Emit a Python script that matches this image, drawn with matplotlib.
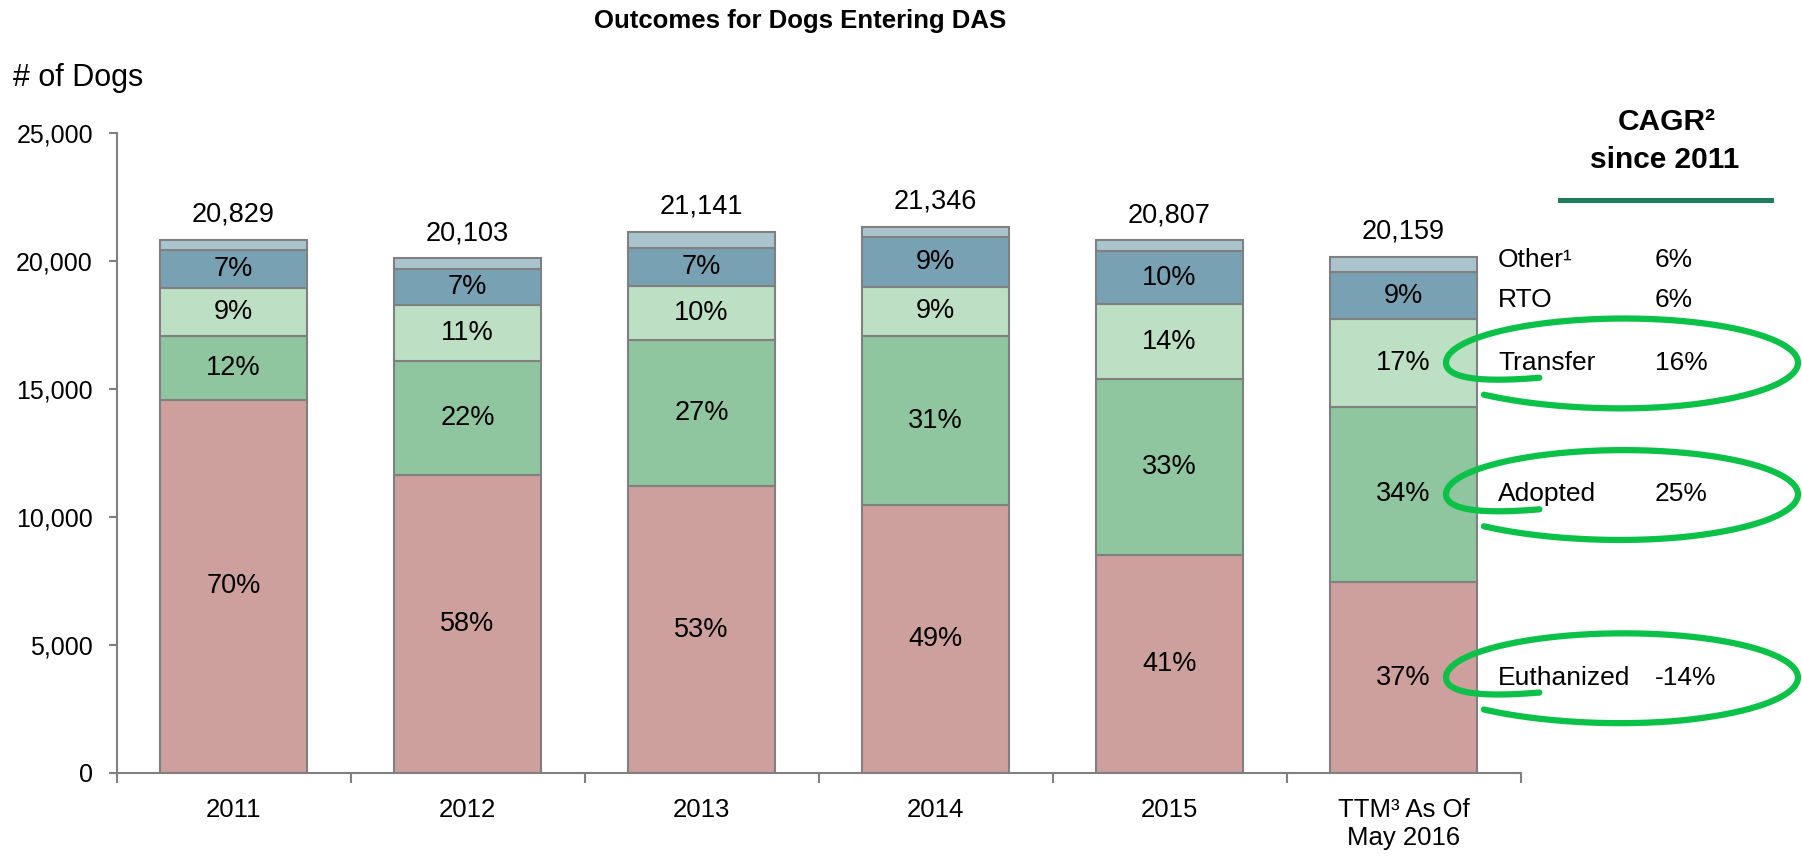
import matplotlib
matplotlib.use('Agg')
import matplotlib.pyplot as plt
from matplotlib.lines import Line2D
import numpy as np

plt.rcParams['font.family'] = ['Liberation Sans', 'DejaVu Sans']

# data
categories = ['2011', '2012', '2013', '2014', '2015', 'TTM³ As Of\nMay 2016']
totals = [20829, 20103, 21141, 21346, 20807, 20159]
euthanized = [14580, 11660, 11205, 10460, 8531, 7459]
adopted = [2500, 4423, 5708, 6617, 6866, 6854]
transfer = [1875, 2211, 2114, 1921, 2913, 3427]
rto = [1458, 1407, 1480, 1921, 2081, 1814]
other = [416, 402, 634, 427, 416, 605]

cagr_labels = ['Euthanized', 'Adopted', 'Transfer', 'RTO', 'Other¹']
cagr_values = ['-14%', '25%', '16%', '6%', '6%']
circled = ['Euthanized', 'Adopted', 'Transfer']

series = [
    ('Euthanized', euthanized, '#CEA09D'),
    ('Adopted', adopted, '#8FC6A0'),
    ('Transfer', transfer, '#BDDFC4'),
    ('RTO', rto, '#78A2B3'),
    ('Other¹', other, '#AAC4CE'),
]

W, H = 1802, 858
fig = plt.figure(figsize=(W / 100, H / 100), dpi=100)
ax = fig.add_axes([116.5 / W, 1 - 773 / H, 1404 / W, 640 / H])

x = np.arange(len(categories))
bottom = np.zeros(len(categories))
centers = {}
for name, vals, color in series:
    vals = np.array(vals)
    ax.bar(x, vals, width=0.63, bottom=bottom, color=color,
           edgecolor='#808080', linewidth=1.5, zorder=2)
    centers[name] = bottom + vals / 2
    if name != 'Other¹':
        for xi, b, v, t in zip(x, bottom, vals, totals):
            ax.text(xi, b + v / 2, f'{round(100 * v / t)}%', ha='center',
                    va='center', fontsize=19.5, zorder=3)
    bottom += vals

for xi, t in zip(x, totals):
    ax.annotate(f'{t:,}', (xi, t), xytext=(0, 18), textcoords='offset points',
                ha='center', va='center', fontsize=19.5)

ax.set_xlim(-0.5, 5.5)
ax.set_ylim(0, 25000)
for side in ['top', 'right']:
    ax.spines[side].set_visible(False)
for side in ['left', 'bottom']:
    ax.spines[side].set_color('#808080')
    ax.spines[side].set_linewidth(1.5)

ax.set_yticks(np.arange(0, 25001, 5000))
ax.set_yticklabels([f'{v:,}' for v in range(0, 25001, 5000)])
ax.tick_params(axis='y', direction='out', length=6, width=1.5,
               color='#808080', pad=11, labelsize=18)
ax.set_xticks(x)
ax.set_xticklabels(categories)
ax.set_xticks(np.arange(-0.5, 6, 1), minor=True)
ax.tick_params(axis='x', which='major', length=0, pad=18, labelsize=18.5)
ax.tick_params(axis='x', which='minor', direction='out', length=7, width=1.5,
               color='#808080')

fig.text(800 / W, 1 - 21 / H, 'Outcomes for Dogs Entering DAS', ha='center',
         va='center', fontsize=18.5, fontweight='bold')
fig.text(13 / W, 1 - 78 / H, '# of Dogs', ha='left', va='center', fontsize=22)

# CAGR side table, rows sit at the segment centres of the last bar
last = len(categories) - 1
nudge = {'Other¹': 3.5, 'RTO': -3}
for lab, val in zip(cagr_labels, cagr_values):
    y = centers[lab][last]
    dy = nudge.get(lab, 0)
    ax.annotate(lab, (5.404, y), xytext=(0, dy), textcoords='offset points',
                ha='left', va='center', fontsize=19, annotation_clip=False)
    ax.annotate(val, (6.075, y), xytext=(0, dy), textcoords='offset points',
                ha='left', va='center', fontsize=19, annotation_clip=False)

fig.text(1667 / W, 1 - 122 / H, 'CAGR²', ha='center', va='center',
         fontsize=21.5, fontweight='bold')
fig.text(1665 / W, 1 - 160 / H, 'since 2011', ha='center', va='center',
         fontsize=21.5, fontweight='bold')
fig.add_artist(Line2D([1560 / W, 1771 / W], [1 - 200 / H] * 2,
                      color='#1E7D5A', lw=3.6))

# hand drawn circles around the highlighted rows
ov = fig.add_axes([0, 0, 1, 1], zorder=5)
ov.set_xlim(0, W)
ov.set_ylim(H, 0)
ov.axis('off')
ov.patch.set_alpha(0)
for lab in circled:
    cy = H - ax.transData.transform((0, centers[lab][last]))[1]
    t = np.radians(np.linspace(242, -136, 400))
    s = (np.radians(242) - t) / np.radians(378)
    b = 43 - 26 * np.clip(1 - s / 0.17, 0, 1) + 3 * s
    a = 176 + 16 * np.clip((s - 0.8) / 0.2, 0, 1)
    ov.plot(1622 + a * np.cos(t), cy - b * np.sin(t), color='#0BC148',
            lw=4.5, solid_capstyle='round')

fig.savefig('out.png', dpi=100)
